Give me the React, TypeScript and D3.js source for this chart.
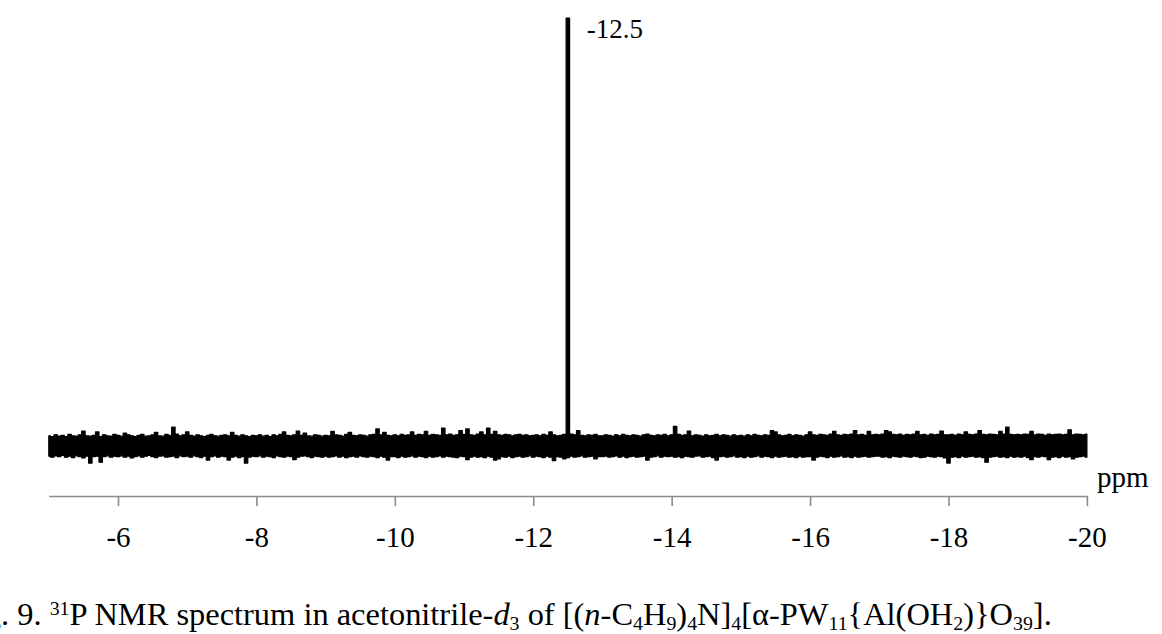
import React, { useEffect, useLayoutEffect, useRef } from "react";
import * as d3 from "d3";

// ---- data ----
const ppmStart = -5;
const ppmStep = -0.05; // grid spacing of the sampled envelope
// upper envelope of the noisy trace (a.u., peak = 100)
const upper: number[] = [
  2.4,2.2,2.6,2.3,2.5,2.2,2.7,2.4,2.3,2.6, 3.5,2.4,2.3,2.5,3.3,2.2,2.6,2.4,2.3,2.7,
  2.5,2.3,3.0,2.6,2.4,2.2,2.5,2.7,2.3,2.4, 2.6,3.2,2.4,2.3,2.7,2.5,4.4,2.8,2.4,2.6,
  3.3,2.5,2.3,2.6,2.4,2.2,2.5,2.7,2.4,2.3, 2.5,2.6,2.4,3.2,2.5,2.3,2.6,2.4,2.2,2.5,
  2.4,2.6,2.3,2.5,2.2,2.6,2.4,2.7,3.3,2.5, 2.4,2.6,3.5,2.5,3.0,2.4,2.3,2.6,2.5,2.3,
  2.5,2.4,3.4,2.6,2.5,2.3,2.7,3.2,2.5,2.4, 2.6,2.5,2.3,2.6,2.7,4.0,2.6,3.2,2.5,2.4,
  2.6,2.4,2.7,2.5,2.6,3.3,2.5,2.7,2.6,3.4, 2.5,2.7,2.6,2.5,4.2,2.6,2.8,2.5,2.6,3.6,
  2.7,4.0,2.6,2.5,2.8,3.3,2.6,4.2,2.7,3.4, 2.6,2.5,2.7,2.6,2.4,2.6,2.7,2.5,2.6,2.4,
  2.5,2.6,2.4,2.7,2.5,3.3,2.6,2.4,2.5,2.7, 100,2.8,2.6,3.6,2.5,2.4,2.6,2.5,2.7,2.4,
  2.4,2.6,2.5,2.3,2.6,2.4,2.7,2.5,2.4,2.6, 2.5,2.3,2.6,2.8,2.5,2.4,2.6,2.5,2.7,2.4,
  2.6,4.6,2.7,2.5,2.6,3.5,2.4,2.6,2.5,2.3, 2.6,2.4,2.5,2.7,2.4,2.6,2.5,2.3,2.6,2.4,
  2.5,2.3,2.6,2.4,2.7,2.5,2.4,2.6,2.5,3.6, 3.3,2.6,2.4,2.5,2.7,2.4,2.6,2.5,2.3,2.6,
  3.3,2.6,2.5,2.7,2.6,2.5,2.8,3.4,2.6,2.5, 2.7,2.6,2.8,3.6,2.6,2.7,2.5,3.4,2.6,2.7,
  2.6,2.8,3.6,3.3,2.7,2.6,2.8,2.5,2.7,2.6, 2.8,3.4,2.6,2.7,2.5,2.8,2.6,2.7,3.5,2.6,
  2.6,2.7,2.5,2.8,2.6,3.3,2.7,2.6,2.8,3.6, 2.7,2.6,2.8,2.7,2.6,3.4,2.8,4.4,2.7,2.6,
  2.7,2.6,2.8,2.7,3.4,2.6,2.8,2.7,2.5,2.8, 2.6,2.7,2.8,2.6,2.7,3.8,2.6,2.8,2.7,2.6,
  2.8,
];
// lower envelope of the noisy trace (a.u.)
const lower: number[] = [
  -2.4,-2.6,-2.3,-2.5,-2.2,-2.6,-2.4,-2.7,-2.3,-2.5, -2.8,-2.4,-4.0,-2.5,-2.4,-3.8,-2.5,-2.3,-2.6,-2.4,
  -2.5,-2.3,-2.6,-2.4,-2.8,-2.5,-2.3,-2.6,-2.4,-2.2, -2.5,-2.7,-2.4,-2.3,-2.6,-2.5,-2.4,-2.7,-2.3,-2.5,
  -2.4,-2.6,-2.3,-2.5,-2.7,-2.4,-3.3,-2.5,-2.3,-2.6, -2.4,-2.5,-3.3,-2.6,-2.4,-2.7,-2.5,-4.0,-2.6,-2.4,
  -2.5,-2.3,-2.6,-2.4,-2.5,-2.7,-2.3,-2.5,-2.6,-2.4, -2.5,-3.2,-2.6,-2.4,-2.3,-2.5,-2.7,-2.4,-2.5,-2.6,
  -2.4,-2.6,-2.5,-2.3,-2.6,-2.4,-2.7,-2.5,-2.4,-2.6, -2.3,-2.5,-2.6,-2.4,-2.5,-2.7,-2.4,-2.6,-3.3,-2.5,
  -2.5,-2.7,-2.4,-2.6,-2.5,-2.3,-2.6,-2.4,-2.5,-2.7, -2.4,-2.6,-2.5,-2.3,-2.6,-2.4,-2.5,-2.6,-2.7,-2.4,
  -2.5,-3.2,-2.6,-2.4,-2.6,-2.5,-2.7,-2.4,-2.6,-3.3, -3.0,-2.5,-2.6,-2.4,-2.7,-2.5,-2.4,-2.6,-2.5,-2.3,
  -2.6,-2.4,-2.5,-2.7,-2.4,-2.6,-3.4,-2.5,-2.6,-3.0, -2.7,-2.4,-2.6,-2.5,-2.3,-2.6,-2.5,-2.4,-3.0,-2.5,
  -2.5,-2.4,-2.6,-2.5,-2.3,-2.6,-2.4,-2.7,-2.5,-2.4, -2.6,-2.5,-2.4,-3.3,-2.6,-2.5,-2.3,-2.6,-2.4,-2.5,
  -2.4,-2.6,-2.5,-2.7,-2.4,-2.5,-2.6,-2.4,-2.3,-2.6, -2.5,-2.4,-2.7,-3.3,-2.5,-2.4,-2.6,-2.5,-2.3,-2.6,
  -2.5,-2.7,-2.4,-2.6,-2.5,-2.3,-2.6,-2.4,-2.5,-2.7, -2.4,-2.6,-2.5,-2.4,-2.6,-2.5,-2.7,-2.4,-2.6,-2.5,
  -2.5,-3.3,-2.6,-2.4,-2.5,-2.7,-2.4,-2.6,-2.5,-2.3, -2.6,-2.5,-2.7,-2.4,-2.6,-2.5,-2.4,-2.6,-2.5,-2.4,
  -2.4,-2.6,-2.5,-2.7,-2.4,-2.5,-2.6,-2.4,-2.5,-2.6, -2.4,-2.5,-2.7,-2.6,-2.4,-2.5,-2.6,-2.4,-2.5,-2.8,
  -4.0,-2.6,-2.5,-2.7,-2.4,-2.6,-2.5,-2.4,-2.6,-2.5, -2.7,-3.8,-2.6,-2.5,-2.4,-2.6,-2.5,-2.7,-2.4,-2.6,
  -2.5,-2.6,-2.4,-2.7,-3.2,-2.5,-2.6,-2.4,-2.5,-3.2, -2.6,-2.5,-2.7,-2.4,-2.6,-2.5,-3.0,-2.6,-2.5,-2.4,
  -2.6,
];
const tickValues = [-6, -8, -10, -12, -14, -16, -18, -20];
const xDomain = [-5, -20];
const yDomain = [0, 100];
const peakLabel = "-12.5";
const peakPpm = -12.5;
const unitLabel = "ppm";

type Seg = { t: string; k?: "sub" | "sup" | "i" };
const caption: Seg[] = [
  { t: "Fig" },
  { t: ". 9. " },
  { t: "31", k: "sup" },
  { t: "P NMR spectrum in acetonitrile-" },
  { t: "d", k: "i" },
  { t: "3", k: "sub" },
  { t: " of [(" },
  { t: "n", k: "i" },
  { t: "-C" },
  { t: "4", k: "sub" },
  { t: "H" },
  { t: "9", k: "sub" },
  { t: ")" },
  { t: "4", k: "sub" },
  { t: "N]" },
  { t: "4", k: "sub" },
  { t: "[α-PW" },
  { t: "11", k: "sub" },
  { t: "{Al(OH" },
  { t: "2", k: "sub" },
  { t: ")}O" },
  { t: "39", k: "sub" },
  { t: "]." },
];

const W = 1162;
const H = 634;
const FONT = "'Palatino Linotype', 'Book Antiqua', Palatino, 'Liberation Serif', serif";

export default function App() {
  const axisRef = useRef<SVGGElement>(null);
  const capRef = useRef<SVGTextElement>(null);
  const preRef = useRef<SVGTSpanElement>(null);

  const x = d3.scaleLinear().domain(xDomain).range([48.8, 1086.9]);
  const y = d3.scaleLinear().domain(yDomain).range([446, 18]);

  const pts = upper.map((u, i) => ({ p: ppmStart + ppmStep * i, u, l: lower[i] }));
  const area = d3
    .area<{ p: number; u: number; l: number }>()
    .x((d) => x(d.p))
    .y0((d) => y(d.l))
    .y1((d) => y(d.u))
    .curve(d3.curveStep);

  useEffect(() => {
    if (!axisRef.current) return;
    const g = d3.select(axisRef.current);
    g.call(
      d3
        .axisBottom(x)
        .tickValues(tickValues)
        .tickSize(10)
        .tickSizeOuter(0)
        .tickFormat((d) => String(d))
    );
    g.attr("font-family", FONT).attr("font-size", 29);
    g.select(".domain").attr("stroke", "#8a8a8a").attr("stroke-width", 1.6);
    g.selectAll(".tick line").attr("stroke", "#8a8a8a").attr("stroke-width", 1.6);
    g.selectAll(".tick text").attr("y", 51).attr("dy", 0).attr("fill", "#000");
  }, []);

  useLayoutEffect(() => {
    const t = capRef.current;
    const p = preRef.current;
    if (!t || !p) return;
    const total = t.getComputedTextLength();
    const wp = p.getComputedTextLength();
    const s = (1052 - 1) / (total - wp);
    const tx = 1 - wp * s;
    t.setAttribute("transform", `translate(${tx},0) scale(${s},1)`);
  }, []);

  // caption tspans
  const spans: React.ReactNode[] = [];
  let shift = 0;
  caption.forEach((seg, i) => {
    let target = 0;
    if (seg.k === "sub") target = 5;
    if (seg.k === "sup") target = -10;
    const dy = target - shift;
    shift = target;
    spans.push(
      <tspan
        key={i}
        ref={i === 0 ? preRef : undefined}
        dy={dy !== 0 ? dy : undefined}
        fontSize={seg.k === "sub" || seg.k === "sup" ? 19 : undefined}
        fontStyle={seg.k === "i" ? "italic" : undefined}
      >
        {seg.t}
      </tspan>
    );
  });

  return (
    <svg
      width={W}
      height={H}
      style={{ position: "absolute", left: 0, top: 0, background: "#fff" }}
    >
      <rect width={W} height={H} fill="#fff" />
      <path d={area(pts) || ""} fill="#000" stroke="#000" strokeWidth={1.2} strokeLinejoin="round" />
      <g ref={axisRef} transform="translate(0,496)" />
      <text x={x(peakPpm) + 19} y={38} fontFamily={FONT} fontSize={27} fill="#000">
        {peakLabel}
      </text>
      <text x={1097} y={487} fontFamily={FONT} fontSize={29} fill="#000">
        {unitLabel}
      </text>
      <text ref={capRef} x={0} y={625} fontFamily={FONT} fontSize={31} fill="#000">
        {spans}
      </text>
    </svg>
  );
}
